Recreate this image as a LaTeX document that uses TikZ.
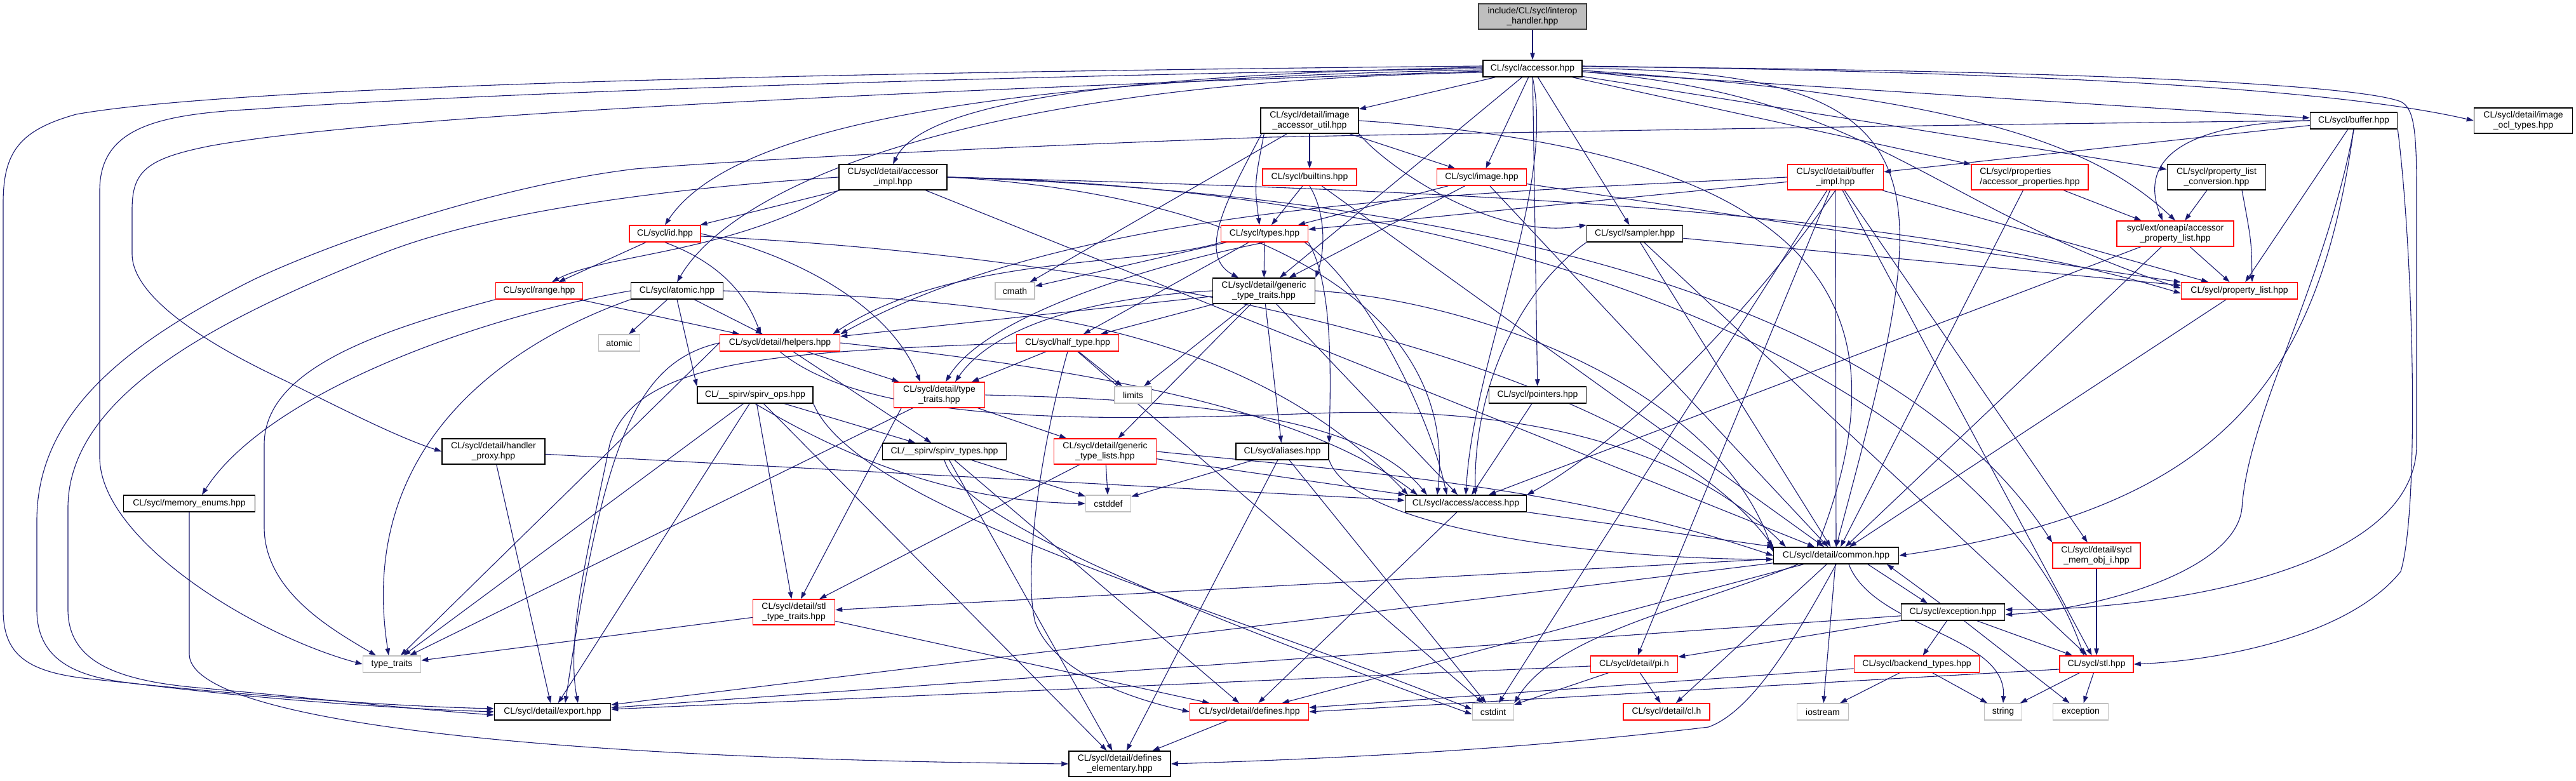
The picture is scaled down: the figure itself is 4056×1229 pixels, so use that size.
\documentclass[tikz,border=0pt]{standalone}
\usepackage{fontspec}
\setmainfont{Liberation Sans}
\usetikzlibrary{arrows.meta}
\definecolor{edgec}{RGB}{25,25,112}
\definecolor{sysgray}{RGB}{191,191,191}
\definecolor{redb}{RGB}{255,0,0}
\definecolor{dgray}{RGB}{64,64,64}
\pgfdeclarelayer{bg}
\pgfdeclarelayer{edges}
\pgfsetlayers{bg,edges,main}
\tikzset{
 nd/.style={draw=black, fill=white, line width=1.5pt, inner xsep=4pt, inner ysep=1pt, minimum height=26pt, font=\fontsize{14}{15.5}\selectfont, align=center, text=black},
 rd/.style={nd, draw=redb},
 gy/.style={nd, draw=sysgray},
 tw/.style={minimum height=40pt},
 edg/.style={draw=edgec, line width=1.1pt, -{Triangle[length=11pt,width=7.5pt]}},
}
\begin{document}
\begin{tikzpicture}[x=1pt,y=-1pt]
\useasboundingbox (0,0) rectangle (4056,1229);
\begin{pgfonlayer}{bg}\fill[white] (0,0) rectangle (4056,1229);\end{pgfonlayer}

\node[nd,tw,fill=sysgray,draw=dgray,minimum width=170pt] (interop) at (2413,26) {include/CL/sycl/interop\\\_handler.hpp};
\node[nd,minimum width=156pt] (accessor) at (2413,108) {CL/sycl/accessor.hpp};
\node[nd,tw,minimum width=154pt] (imgaccutil) at (2062,190) {CL/sycl/detail/image\\\_accessor\_util.hpp};
\node[nd,minimum width=137pt] (buffer) at (3706,190) {CL/sycl/buffer.hpp};
\node[nd,tw,minimum width=155pt] (imgocl) at (3973,190) {CL/sycl/detail/image\\\_ocl\_types.hpp};
\node[nd,tw,minimum width=170pt] (accimpl) at (1406,279) {CL/sycl/detail/accessor\\\_impl.hpp};
\node[rd,minimum width=148pt] (builtins) at (2062,279) {CL/sycl/builtins.hpp};
\node[rd,minimum width=141pt] (image) at (2333,279) {CL/sycl/image.hpp};
\node[rd,tw,minimum width=151pt] (bufimpl) at (2890,279) {CL/sycl/detail/buffer\\\_impl.hpp};
\node[rd,tw,minimum width=184pt,align=left] (accprops) at (3196,279) {CL/sycl/properties\\/accessor\_properties.hpp};
\node[nd,tw,minimum width=155pt] (plconv) at (3490,279) {CL/sycl/property\_list\\\_conversion.hpp};
\node[rd,minimum width=112pt] (id) at (1047,368) {CL/sycl/id.hpp};
\node[rd,minimum width=137pt] (types) at (1991,368) {CL/sycl/types.hpp};
\node[nd,minimum width=151pt] (sampler) at (2574,368) {CL/sycl/sampler.hpp};
\node[rd,tw,minimum width=184pt] (extapl) at (3425,368) {sycl/ext/oneapi/accessor\\\_property\_list.hpp};
\node[rd,minimum width=137pt] (range) at (849,458) {CL/sycl/range.hpp};
\node[nd,minimum width=145pt] (atomichpp) at (1066,458) {CL/sycl/atomic.hpp};
\node[gy,minimum width=62pt] (cmath) at (1598,458) {cmath};
\node[nd,tw,minimum width=161pt] (gtt) at (1990,458) {CL/sycl/detail/generic\\\_type\_traits.hpp};
\node[rd,minimum width=183pt] (proplist) at (3526,458) {CL/sycl/property\_list.hpp};
\node[gy,minimum width=65pt] (atomic) at (975,540) {atomic};
\node[rd,minimum width=189pt] (helpers) at (1228,540) {CL/sycl/detail/helpers.hpp};
\node[rd,minimum width=161pt] (half) at (1681,540) {CL/sycl/half\_type.hpp};
\node[nd,minimum width=182pt] (spirvops) at (1189,622) {CL/\_\_spirv/spirv\_ops.hpp};
\node[rd,tw,minimum width=143pt] (dtt) at (1479,622) {CL/sycl/detail/type\\\_traits.hpp};
\node[gy,minimum width=58pt] (limits) at (1784,622) {limits};
\node[nd,minimum width=153pt] (pointers) at (2421,622) {CL/sycl/pointers.hpp};
\node[nd,tw,minimum width=162pt] (hproxy) at (777,711) {CL/sycl/detail/handler\\\_proxy.hpp};
\node[nd,minimum width=195pt] (spirvtypes) at (1487,711) {CL/\_\_spirv/spirv\_types.hpp};
\node[rd,tw,minimum width=161pt] (gtl) at (1740,711) {CL/sycl/detail/generic\\\_type\_lists.hpp};
\node[nd,minimum width=146pt] (aliases) at (2019,711) {CL/sycl/aliases.hpp};
\node[nd,minimum width=207pt] (memenums) at (298,793) {CL/sycl/memory\_enums.hpp};
\node[gy,minimum width=71pt] (cstddef) at (1745,793) {cstddef};
\node[nd,minimum width=191pt] (access) at (2308,793) {CL/sycl/access/access.hpp};
\node[nd,minimum width=197pt] (common) at (2891,875) {CL/sycl/detail/common.hpp};
\node[rd,tw,minimum width=138pt] (memobji) at (3301,875) {CL/sycl/detail/sycl\\\_mem\_obj\_i.hpp};
\node[rd,tw,minimum width=129pt] (stltt) at (1250,964) {CL/sycl/detail/stl\\\_type\_traits.hpp};
\node[nd,minimum width=163pt] (exchpp) at (3075,964) {CL/sycl/exception.hpp};
\node[gy,minimum width=91pt] (typetraits) at (617,1046) {type\_traits};
\node[rd,minimum width=137pt] (pih) at (2573,1046) {CL/sycl/detail/pi.h};
\node[rd,minimum width=197pt] (backend) at (3018,1046) {CL/sycl/backend\_types.hpp};
\node[rd,minimum width=116pt] (stl) at (3301,1046) {CL/sycl/stl.hpp};
\node[nd,minimum width=183pt] (export) at (870,1121) {CL/sycl/detail/export.hpp};
\node[rd,minimum width=187pt] (defines) at (1967,1121) {CL/sycl/detail/defines.hpp};
\node[gy,minimum width=65pt] (cstdint) at (2351,1121) {cstdint};
\node[rd,minimum width=136pt] (clh) at (2624,1121) {CL/sycl/detail/cl.h};
\node[gy,minimum width=81pt] (iostream) at (2870,1121) {iostream};
\node[gy,minimum width=59pt] (string) at (3154,1121) {string};
\node[gy,minimum width=87pt] (exception) at (3276,1121) {exception};
\node[nd,tw,minimum width=160pt] (defel) at (1763,1203) {CL/sycl/detail/defines\\\_elementary.hpp};

\begin{pgfonlayer}{edges}
\foreach \a/\b in {interop/accessor,
 accessor/imgaccutil, accessor/image, accessor/sampler, accessor/pointers, accessor/gtt, accessor/buffer, accessor/accprops, accessor/plconv,
 imgaccutil/builtins, imgaccutil/image, imgaccutil/cmath,
 builtins/types, builtins/common,
 image/types, image/gtt, image/common, image/proplist,
 bufimpl/types, bufimpl/common, bufimpl/proplist, bufimpl/stl, bufimpl/memobji, bufimpl/cstdint, bufimpl/pih,
 accprops/extapl, accprops/common, plconv/extapl,
 extapl/access, extapl/common, extapl/proplist,
 sampler/common, sampler/proplist, sampler/stl,
 id/range, types/gtt, types/cmath, types/half,
 gtt/helpers, gtt/half, gtt/limits, gtt/aliases, gtt/gtl, gtt/access,
 proplist/common, range/helpers, atomichpp/atomic, atomichpp/helpers,
 helpers/spirvtypes, helpers/dtt, half/dtt, half/limits, half/cstdint,
 spirvops/spirvtypes, spirvops/defel, spirvops/export, spirvops/stltt, spirvops/typetraits,
 dtt/gtl, dtt/typetraits, pointers/access, hproxy/access, hproxy/export,
 gtl/cstddef, gtl/stltt, gtl/access,
 aliases/cstddef, aliases/cstdint, aliases/defel,
 spirvtypes/defines, spirvtypes/defel, spirvtypes/cstddef,
 access/common, access/defines,
 common/stltt, common/export, common/defines, common/clh, common/iostream,
 memobji/stl, stltt/typetraits, stltt/defines,
 exchpp/backend, exchpp/stl, exchpp/exception, exchpp/pih, exchpp/export,
 pih/cstdint, pih/clh, pih/export,
 backend/string, backend/iostream, backend/defines,
 stl/string, stl/exception, defines/defel,
 accimpl/id, accimpl/common, buffer/proplist, buffer/bufimpl}
 \draw[edg] (\a) -- (\b);

% far-left routes
\draw[edg] ([yshift=4pt]accessor.west) .. controls (1500,112) and (400,130) .. (120,180) .. controls (30,205) and (5,240) .. (5,320) -- (5,960) .. controls (5,1030) and (40,1060) .. (150,1070) .. controls (350,1092) and (600,1112) .. ([yshift=5pt]export.west);
\draw[edg] (accessor.west) .. controls (1500,120) and (700,150) .. (400,172) .. controls (250,180) and (157,200) .. (157,300) -- (157,720) .. controls (157,850) and (400,1000) .. (typetraits.west);
\draw[edg] ([yshift=-4pt]accessor.west) .. controls (1500,140) and (600,180) .. (330,230) .. controls (230,250) and (208,270) .. (208,330) -- (208,400) .. controls (208,460) and (300,530) .. (450,600) .. controls (550,650) and (630,690) .. (hproxy.west);
\draw[edg] (buffer.west) .. controls (3000,197) and (2300,210) .. (2000,216) .. controls (1600,230) and (1200,250) .. (1000,266) .. controls (800,290) and (550,370) .. (400,440) .. controls (200,540) and (58,650) .. (58,820) -- (58,960) .. controls (58,1040) and (120,1065) .. (200,1075) .. controls (400,1100) and (600,1115) .. (export.west);
\draw[edg] (accimpl.west) .. controls (1150,290) and (800,320) .. (600,400) .. controls (350,500) and (107,620) .. (107,800) -- (107,960) .. controls (107,1040) and (180,1070) .. (300,1082) .. controls (500,1100) and (650,1117) .. ([yshift=-5pt]export.west);

% accessor curves
\draw[edg] ([yshift=2pt]accessor.west) .. controls (1700,118) and (1450,170) .. (accimpl.north);
\draw[edg] ([yshift=-2pt]accessor.west) .. controls (1550,125) and (1150,200) .. (id.north);
\draw[edg] ([yshift=-6pt]accessor.west) .. controls (1500,130) and (1150,300) .. (atomichpp.north);
\draw[edg] (accessor.south) .. controls (2450,300) and (2320,560) .. (access.north);
\draw[edg] (accessor.east) .. controls (3100,110) and (3040,300) .. (common.north);
\draw[edg] ([yshift=3pt]accessor.east) .. controls (3200,110) and (3700,130) .. (3780,160) .. controls (3800,170) and (3805,200) .. (3805,300) -- (3805,700) .. controls (3805,900) and (3400,962) .. ([yshift=4pt]exchpp.east);
\draw[edg] ([yshift=4pt]accessor.east) .. controls (3300,115) and (3700,145) .. (imgocl.west);
\draw[edg] ([yshift=-3pt]accessor.east) .. controls (3100,150) and (3300,230) .. (extapl.north);
\draw[edg] ([yshift=-5pt]accessor.east) .. controls (2950,150) and (3030,320) .. ([yshift=4pt]proplist.west);

% other curves
\draw[edg] ([xshift=6pt]imgaccutil.south west) .. controls (1975,290) .. ([xshift=-8pt]types.north);
\draw[edg] ([xshift=2pt]imgaccutil.south west) .. controls (1940,300) and (1880,400) .. ([xshift=-40pt]gtt.north);
\draw[edg] (imgaccutil.south east) .. controls (2180,260) and (2350,380) .. (sampler.north west);
\draw[edg] (imgaccutil.east) .. controls (2900,240) and (3000,500) .. ([xshift=-30pt]common.north);
\draw[edg] (builtins.south) .. controls (2090,340) and (2085,400) .. (gtt.north east);
\draw[edg] (bufimpl.west) .. controls (2300,305) and (1700,320) .. (helpers.north east);
\draw[edg] (bufimpl.south) .. controls (2750,500) and (2550,700) .. (access.north east);
\draw[edg] ([xshift=40pt]plconv.south) .. controls (3545,380) .. ([xshift=20pt]proplist.north);
\draw[edg] (sampler.south west) .. controls (2400,450) and (2320,600) .. ([xshift=15pt]access.north);
\draw[edg] (id.south) .. controls (1150,420) and (1180,480) .. ([xshift=-30pt]helpers.north);
\draw[edg] (id.east) .. controls (1250,400) and (1400,480) .. ([xshift=-30pt]dtt.north);
\draw[edg] ([yshift=-4pt]id.east) .. controls (1900,410) and (2600,600) .. (common.north west);
\draw[edg] (types.south west) .. controls (1800,420) and (1500,400) .. ([xshift=-12pt]helpers.north east);
\draw[edg] (types.south) .. controls (1800,420) and (1550,500) .. ([xshift=10pt]dtt.north);
\draw[edg] (types.south east) .. controls (2100,450) and (2095,600) .. (aliases.north east);
\draw[edg] ([xshift=-6pt]types.south east) .. controls (2150,450) and (2250,650) .. ([xshift=-30pt]access.north);
\draw[edg] (gtt.west) .. controls (1700,470) and (1560,520) .. ([xshift=25pt]dtt.north);
\draw[edg] (gtt.east) .. controls (2300,470) and (2700,600) .. ([yshift=6pt]common.west);
\draw[edg] (atomichpp.east) .. controls (1550,470) and (1950,500) .. ([xshift=5pt]access.north west);
\draw[edg] (atomichpp.west) .. controls (750,500) and (420,620) .. ([xshift=20pt]memenums.north);
\draw[edg] (atomichpp.south west) .. controls (800,540) and (560,700) .. ([xshift=-5pt]typetraits.north);
\draw[edg] (atomichpp.south) -- (spirvops.north west);
\draw[edg] (range.south west) .. controls (600,520) and (416,580) .. (416,700) -- (416,830) .. controls (416,930) and (520,990) .. ([xshift=-25pt]typetraits.north);
\draw[edg] (helpers.east) .. controls (1700,580) and (2050,640) .. ([xshift=20pt]access.north west);
\draw[edg] (helpers.south) .. controls (1380,680) and (1800,660) .. (2100,650) .. controls (2500,640) and (2700,750) .. ([xshift=20pt]common.north west);
\draw[edg] (helpers.west) .. controls (1000,570) and (950,700) .. ([xshift=20pt]export.north);
\draw[edg] (helpers.west) -- (typetraits);
\draw[edg] (half.south) .. controls (1640,700) and (1610,900) .. (1630,980) .. controls (1660,1060) and (1780,1100) .. (defines.west);
\draw[edg] (half.west) .. controls (1250,555) and (1000,560) .. (960,700) .. controls (930,850) and (890,1000) .. ([xshift=40pt]export.north);
\draw[edg] (spirvops.south) .. controls (1330,720) and (1500,790) .. (cstddef.west);
\draw[edg] (spirvops.south east) .. controls (1350,800) and (1900,950) .. ([yshift=4pt]cstdint.west);
\draw[edg] (dtt.east) .. controls (1900,630) and (2150,660) .. ([xshift=35pt]access.north west);
\draw[edg] ([xshift=-60pt]dtt.south) -- (stltt);
\draw[edg] (gtl.east) .. controls (2100,740) and (2450,760) .. (common.west);
\draw[edg] (aliases.south east) .. controls (2130,830) and (2500,880) .. ([yshift=-6pt]common.west);
\draw[edg] (spirvtypes.south) .. controls (1510,800) and (1700,900) .. ([yshift=-4pt]cstdint.west);
\draw[edg] (memenums.south) -- (298,1030) .. controls (298,1130) and (800,1195) .. (defel.west);
\draw[edg] (common.south) .. controls (2830,1000) and (2760,1120) .. (2690,1145) .. controls (2400,1180) and (2100,1195) .. (defel.east);
\draw[edg] ([xshift=-60pt]common.south) .. controls (2650,960) and (2450,1000) .. (cstdint.north east);
\draw[edg] ([xshift=20pt]common.south) .. controls (2950,990) and (3160,1000) .. (string.north);
\draw[edg] ([xshift=50pt]common.south) -- ([xshift=-40pt]exchpp.north);
\draw[edg] ([xshift=-20pt]exchpp.north) -- ([xshift=80pt]common.south);
\draw[edg] ([yshift=-8pt]stl.west) -- (defines.east);
\draw[edg] (accimpl.south west) .. controls (1150,400) and (950,400) .. ([xshift=20pt]range.north);
\draw[edg] (accimpl.east) .. controls (1900,300) and (2300,450) .. ([xshift=-45pt]access.north);
\draw[edg] (accimpl.east) .. controls (2300,300) and (3000,330) .. ([yshift=-4pt]proplist.west);
\draw[edg] (accimpl.east) .. controls (2400,310) and (3000,500) .. (memobji.north west);
\draw[edg] (accimpl.east) .. controls (2500,300) and (3150,650) .. ([xshift=-20pt]stl.north);
\draw[edg] (buffer.west) .. controls (3420,195) and (3370,260) .. ([xshift=-20pt]extapl.north);
\draw[edg] (buffer.south) .. controls (3650,600) and (3500,800) .. (common.east);
\draw[edg] (buffer.south) .. controls (3660,450) and (3540,650) .. (3530,800) .. controls (3520,900) and (3300,960) .. ([yshift=-4pt]exchpp.east);
\draw[edg] (buffer.south east) .. controls (3800,400) and (3810,800) .. (3780,900) .. controls (3700,1000) and (3500,1040) .. (stl.east);
\end{pgfonlayer}
\end{tikzpicture}
\end{document}
